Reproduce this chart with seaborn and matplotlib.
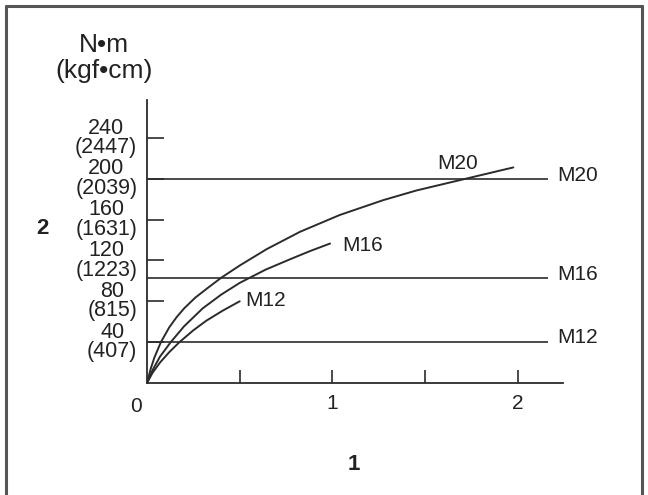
import matplotlib
matplotlib.use("Agg")
import matplotlib.pyplot as plt
import pandas as pd
import seaborn as sns
from matplotlib.lines import Line2D

# ---- data ----
m20_x = [0, 0.02, 0.04, 0.075, 0.12, 0.16, 0.2, 0.26, 0.32, 0.4, 0.5, 0.645,
         0.825, 1.04, 1.274, 1.454, 1.72, 1.975]
m20_y = [0, 14, 25, 40, 54.5, 64.5, 73, 83.5, 92, 103, 115, 131,
         148, 164.5, 179, 188.5, 200, 211]
m16_x = [0, 0.03, 0.07, 0.128, 0.2, 0.3, 0.4, 0.5, 0.64, 0.77, 0.88, 0.987]
m16_y = [0, 12.6, 25.8, 40, 55.5, 73, 86.5, 98, 111, 121, 129.2, 136.5]
m12_x = [0, 0.03, 0.07, 0.12, 0.175, 0.25, 0.32, 0.41, 0.5]
m12_y = [0, 10, 20, 30.2, 40, 51.6, 61, 71, 80]

bolt_names = ["M20", "M16", "M12"]
limit_values = [200, 103, 40]

y_ticks = [40, 80, 120, 160, 200, 240]
y_kgf = [407, 815, 1223, 1631, 2039, 2447]
x_ticks = [0.5, 1, 1.5, 2]
x_tick_labels = ["", "1", "", "2"]

sns.set_style("white")
plt.rcParams["font.family"] = ["Liberation Sans", "DejaVu Sans"]

LC = "#2b2b2b"
TC = "#222222"
fig = plt.figure(figsize=(6.48, 4.95), dpi=100)
ax = fig.add_axes([147 / 648, 112 / 495, 416 / 648, 283 / 495])

df = pd.concat([
    pd.DataFrame({"x": m20_x, "y": m20_y, "bolt": "M20"}),
    pd.DataFrame({"x": m16_x, "y": m16_y, "bolt": "M16"}),
    pd.DataFrame({"x": m12_x, "y": m12_y, "bolt": "M12"}),
], ignore_index=True)
sns.lineplot(data=df, x="x", y="y", hue="bolt", units="bolt", estimator=None,
             sort=False, palette={b: LC for b in bolt_names}, legend=False,
             linewidth=1.4, ax=ax)

ax.hlines(limit_values, 0, 2.162, color=LC, linewidth=1.2)

# labels at the right end of the limit lines
for name, v, off in zip(bolt_names, limit_values, [3, 3, 5]):
    ax.text(2.21, v + off, name, ha="left", va="center", fontsize=15,
            color=TC, clip_on=False)

# labels at the end of the curves
ax.text(1.563, 215, "M20", ha="left", va="center", fontsize=15, color=TC)
ax.text(1.051, 135, "M16", ha="left", va="center", fontsize=15, color=TC)
ax.text(0.528, 81, "M12", ha="left", va="center", fontsize=15, color=TC)

ax.set_xlim(0, 2.243)
ax.set_ylim(0, 277)
ax.set_xlabel("")
ax.set_ylabel("")

ax.set_xticks(x_ticks)
ax.set_xticklabels(x_tick_labels)
ax.tick_params(axis="x", bottom=True, direction="in", length=9.5, width=1.2,
               color=LC, pad=8, labelsize=15, labelcolor=TC)
ax.text(-0.059, -23, "0", ha="center", va="center", fontsize=15,
        color=TC, clip_on=False)

ax.set_yticks(y_ticks)
ax.set_yticklabels([f"{n}\n({k})" for n, k in zip(y_ticks, y_kgf)],
                   multialignment="center", linespacing=0.9, va="center")
ax.tick_params(axis="y", left=True, direction="in", length=12.5, width=1.2,
               color=LC, pad=7, labelsize=15.5, labelcolor=TC)
for lab in ax.get_yticklabels():
    lab.set_y(lab.get_position()[1])

sns.despine(ax=ax)
for s in ["left", "bottom"]:
    ax.spines[s].set_color(LC)
    ax.spines[s].set_linewidth(1.3)

# unit label and axis numbers
fig.text(104 / 648, 1 - 58 / 495, "N•m\n(kgf•cm)", ha="center", va="center",
         multialignment="center", fontsize=19, linespacing=1.1, color=TC)
fig.text(42 / 648, 1 - 228 / 495, "2", ha="center", va="center",
         fontsize=16, fontweight="bold", color=TC)
fig.text(354 / 648, 1 - 465 / 495, "1", ha="center", va="center",
         fontsize=16, fontweight="bold", color=TC)

# outer frame (left, top, right)
fc = "#555555"
fig.add_artist(Line2D([6 / 648, 6 / 648], [0, 1 - 6 / 495],
                      transform=fig.transFigure, color=fc, lw=2.2))
fig.add_artist(Line2D([6 / 648, 642 / 648], [1 - 6 / 495, 1 - 6 / 495],
                      transform=fig.transFigure, color=fc, lw=2.2))
fig.add_artist(Line2D([642 / 648, 642 / 648], [0, 1 - 6 / 495],
                      transform=fig.transFigure, color=fc, lw=2.2))

fig.savefig("out.png", dpi=100)
